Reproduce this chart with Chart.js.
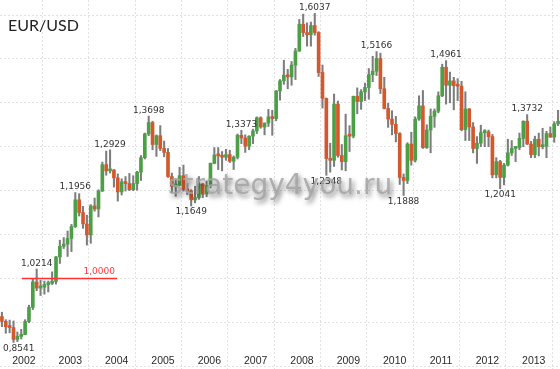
<!DOCTYPE html>
<html>
<head>
<meta charset="utf-8">
<script src="https://cdn.jsdelivr.net/npm/chart.js@4.4.1/dist/chart.umd.min.js"></script>
<style>
  html, body { margin: 0; padding: 0; background: #fff; }
  #wrap { width: 560px; height: 369px; }
</style>
</head>
<body>
<div id="wrap"><canvas id="eurusd" width="560" height="369"></canvas></div>
<script>
// monthly EUR/USD candles, Oct 2001 .. Oct 2013
const monthNames = ['Jan','Feb','Mar','Apr','May','Jun','Jul','Aug','Sep','Oct','Nov','Dec'];
const years = ['2002','2003','2004','2005','2006','2007','2008','2009','2010','2011','2012','2013'];

const opens = [
  0.9130, 0.9020, 0.8900,
  0.8880, 0.8610, 0.8680, 0.8720, 0.9020, 0.9340, 0.9920, 0.9780, 0.9800, 0.9860, 0.9890, 0.9930,
  1.0490, 1.0730, 1.0780, 1.0910, 1.1180, 1.1790, 1.1500, 1.1240, 1.0990, 1.1650, 1.1580, 1.1990,
  1.2590, 1.2450, 1.2470, 1.2290, 1.1970, 1.2200, 1.2160, 1.2020, 1.2160, 1.2420, 1.2750, 1.3290,
  1.3550, 1.3050, 1.3250, 1.2960, 1.2870, 1.2320, 1.2100, 1.2120, 1.2340, 1.2030, 1.1990, 1.1790,
  1.1840, 1.2150, 1.1920, 1.2120, 1.2620, 1.2810, 1.2790, 1.2760, 1.2820, 1.2670, 1.2760, 1.3260,
  1.3200, 1.3010, 1.3240, 1.3360, 1.3660, 1.3450, 1.3540, 1.3680, 1.3640, 1.4270, 1.4500, 1.4630,
  1.4590, 1.4860, 1.5180, 1.5790, 1.5600, 1.5550, 1.5760, 1.5600, 1.4690, 1.4100, 1.2730, 1.2690,
  1.3970, 1.2800, 1.2660, 1.3250, 1.3240, 1.4150, 1.4030, 1.4250, 1.4350, 1.4640, 1.4720, 1.5010,
  1.4320, 1.3870, 1.3630, 1.3510, 1.3300, 1.2300, 1.2230, 1.3060, 1.2690, 1.3630, 1.3930, 1.2980,
  1.3380, 1.3690, 1.3810, 1.4160, 1.4810, 1.4400, 1.4500, 1.4390, 1.4380, 1.3390, 1.3860, 1.3450,
  1.2960, 1.3080, 1.3320, 1.3340, 1.3230, 1.2360, 1.2660, 1.2300, 1.2580, 1.2860, 1.2960, 1.2980,
  1.3190, 1.3580, 1.3060, 1.2820, 1.3170, 1.3000, 1.3010, 1.3300, 1.3220, 1.3520
];
const highs = [
  0.9230, 0.9060, 0.9050,
  0.9030, 0.8780, 0.8840, 0.9060, 0.9390, 0.9990, 1.0214, 0.9960, 0.9940, 0.9940, 1.0150, 1.0500,
  1.0870, 1.0930, 1.1080, 1.1230, 1.1956, 1.1930, 1.1640, 1.1440, 1.1680, 1.1830, 1.2020, 1.2650,
  1.2900, 1.2929, 1.2480, 1.2380, 1.2270, 1.2320, 1.2390, 1.2340, 1.2440, 1.2800, 1.3310, 1.3698,
  1.3580, 1.3270, 1.3480, 1.3130, 1.2960, 1.2400, 1.2240, 1.2530, 1.2580, 1.2160, 1.2020, 1.2100,
  1.2320, 1.2160, 1.2220, 1.2630, 1.2980, 1.2980, 1.2890, 1.2940, 1.2920, 1.2790, 1.3290, 1.3373,
  1.3270, 1.3250, 1.3400, 1.3680, 1.3680, 1.3540, 1.3850, 1.3830, 1.4280, 1.4530, 1.4970, 1.4760,
  1.4940, 1.5240, 1.5900, 1.6020, 1.5820, 1.5840, 1.6037, 1.5620, 1.4860, 1.4110, 1.3080, 1.4200,
  1.4040, 1.3050, 1.3740, 1.3480, 1.4150, 1.4340, 1.4300, 1.4450, 1.4780, 1.5060, 1.5166, 1.5130,
  1.4580, 1.3990, 1.3820, 1.3690, 1.3320, 1.2380, 1.3090, 1.3330, 1.3680, 1.4160, 1.4280, 1.3500,
  1.3860, 1.3860, 1.4250, 1.4880, 1.4961, 1.4700, 1.4580, 1.4550, 1.4490, 1.4250, 1.3870, 1.3550,
  1.3230, 1.3490, 1.3390, 1.3380, 1.3280, 1.2750, 1.2690, 1.2620, 1.3170, 1.3140, 1.3010, 1.3310,
  1.3590, 1.3732, 1.3120, 1.3240, 1.3310, 1.3420, 1.3350, 1.3450, 1.3570, 1.3830
];
const lows = [
  0.8900, 0.8750, 0.8760,
  0.8541, 0.8560, 0.8620, 0.8720, 0.8990, 0.9290, 0.9720, 0.9610, 0.9640, 0.9690, 0.9860, 0.9870,
  1.0340, 1.0680, 1.0500, 1.0610, 1.1160, 1.1420, 1.1140, 1.0760, 1.0800, 1.1530, 1.1400, 1.1980,
  1.2350, 1.2400, 1.2080, 1.1760, 1.1900, 1.1990, 1.2000, 1.2000, 1.2010, 1.2230, 1.2720, 1.3250,
  1.2930, 1.2780, 1.2910, 1.2770, 1.2300, 1.1950, 1.1870, 1.2110, 1.1990, 1.1910, 1.1649, 1.1720,
  1.1800, 1.1840, 1.1860, 1.2060, 1.2610, 1.2480, 1.2450, 1.2690, 1.2640, 1.2480, 1.2720, 1.3070,
  1.2870, 1.2930, 1.3070, 1.3300, 1.3420, 1.3270, 1.3460, 1.3260, 1.3590, 1.4060, 1.4420, 1.4320,
  1.4400, 1.4530, 1.5170, 1.5510, 1.5290, 1.5290, 1.5540, 1.4600, 1.3880, 1.2348, 1.2420, 1.2550,
  1.2760, 1.2470, 1.2450, 1.2890, 1.3200, 1.3750, 1.3850, 1.4050, 1.4080, 1.4480, 1.4620, 1.4210,
  1.3860, 1.3440, 1.3270, 1.3110, 1.2140, 1.1888, 1.2160, 1.2580, 1.2650, 1.3600, 1.2960, 1.2960,
  1.2860, 1.3440, 1.3770, 1.4140, 1.3970, 1.4000, 1.3840, 1.4050, 1.3360, 1.3140, 1.3140, 1.2860,
  1.2620, 1.3000, 1.3000, 1.3000, 1.2290, 1.2290, 1.2041, 1.2130, 1.2560, 1.2800, 1.2660, 1.2930,
  1.3000, 1.3050, 1.2750, 1.2750, 1.2790, 1.2950, 1.2750, 1.3210, 1.3100, 1.3480
];
const closes = [
  0.9020, 0.8900, 0.8880,
  0.8610, 0.8680, 0.8720, 0.9020, 0.9340, 0.9920, 0.9780, 0.9800, 0.9860, 0.9890, 0.9930, 1.0490,
  1.0730, 1.0780, 1.0910, 1.1180, 1.1790, 1.1500, 1.1240, 1.0990, 1.1650, 1.1580, 1.1990, 1.2590,
  1.2450, 1.2470, 1.2290, 1.1970, 1.2200, 1.2160, 1.2020, 1.2160, 1.2420, 1.2750, 1.3290, 1.3550,
  1.3050, 1.3250, 1.2960, 1.2870, 1.2320, 1.2100, 1.2120, 1.2340, 1.2030, 1.1990, 1.1790, 1.1840,
  1.2150, 1.1920, 1.2120, 1.2620, 1.2810, 1.2790, 1.2760, 1.2820, 1.2670, 1.2760, 1.3260, 1.3200,
  1.3010, 1.3240, 1.3360, 1.3660, 1.3450, 1.3540, 1.3680, 1.3640, 1.4270, 1.4500, 1.4630, 1.4590,
  1.4860, 1.5180, 1.5790, 1.5600, 1.5550, 1.5760, 1.5600, 1.4690, 1.4100, 1.2730, 1.2690, 1.3970,
  1.2800, 1.2660, 1.3250, 1.3240, 1.4150, 1.4030, 1.4250, 1.4350, 1.4640, 1.4720, 1.5010, 1.4320,
  1.3870, 1.3630, 1.3510, 1.3300, 1.2300, 1.2230, 1.3060, 1.2690, 1.3630, 1.3930, 1.2980, 1.3380,
  1.3690, 1.3810, 1.4160, 1.4810, 1.4400, 1.4500, 1.4390, 1.4380, 1.3390, 1.3860, 1.3450, 1.2960,
  1.3080, 1.3320, 1.3340, 1.3230, 1.2360, 1.2660, 1.2300, 1.2580, 1.2860, 1.2960, 1.2980, 1.3190,
  1.3580, 1.3060, 1.2820, 1.3170, 1.3000, 1.3010, 1.3300, 1.3220, 1.3520, 1.3580
];

// marked extremes (index into the arrays above)
const extremes = [
  { i: 3,   price: 0.8541, text: '0,8541', side: 'below' },
  { i: 9,   price: 1.0214, text: '1,0214', side: 'above' },
  { i: 19,  price: 1.1956, text: '1,1956', side: 'above' },
  { i: 28,  price: 1.2929, text: '1,2929', side: 'above' },
  { i: 38,  price: 1.3698, text: '1,3698', side: 'above' },
  { i: 49,  price: 1.1649, text: '1,1649', side: 'below' },
  { i: 62,  price: 1.3373, text: '1,3373', side: 'above' },
  { i: 81,  price: 1.6037, text: '1,6037', side: 'above' },
  { i: 84,  price: 1.2348, text: '1,2348', side: 'below' },
  { i: 97,  price: 1.5166, text: '1,5166', side: 'above' },
  { i: 104, price: 1.1888, text: '1,1888', side: 'below' },
  { i: 115, price: 1.4961, text: '1,4961', side: 'above' },
  { i: 129, price: 1.2041, text: '1,2041', side: 'below' },
  { i: 136, price: 1.3732, text: '1,3732', side: 'above' }
];

// parity line
const levelValue = 1.0;
const levelText = '1,0000';
const levelSpan = [5.2, 29.8];

const gridLevels = [0.8, 0.9, 1.0, 1.1, 1.2, 1.3, 1.4, 1.5, 1.6];
const yearSplits = [10.5, 22.5, 34.5, 46.5, 58.5, 70.5, 82.5, 94.5, 106.5, 118.5, 130.5, 142.5];

const UP = '#4c9f46', DOWN = '#d4582c', WICK = '#7d7d7d';

const labels = opens.map((_, i) => {
  const m = (9 + i) % 12, y = 2001 + Math.floor((9 + i) / 12);
  return monthNames[m] + ' ' + y;
});
const bodies = opens.map((o, i) => ({ x: i, y: [Math.min(o, closes[i]), Math.max(o, closes[i])] }));
const wicks = opens.map((o, i) => ({ x: i, y: [lows[i], highs[i]] }));
const bodyColors = opens.map((o, i) => closes[i] >= o ? UP : DOWN);

const overlay = {
  id: 'overlay',
  afterDraw(chart) {
    const { ctx, scales: { x, y } } = chart;
    ctx.save();

    // year labels
    ctx.font = '10.5px "Liberation Sans"';
    ctx.fillStyle = '#2a2a2a';
    ctx.textAlign = 'center';
    ctx.textBaseline = 'middle';
    years.forEach((yr, k) => ctx.fillText(yr, x.getPixelForValue(5.7 + 12 * k), 361));

    // extreme values, kept inside the canvas
    ctx.font = '9px "DejaVu Sans"';
    ctx.fillStyle = '#333';
    extremes.forEach(e => {
      const py = y.getPixelForValue(e.price);
      const half = ctx.measureText(e.text).width / 2;
      const px = Math.max(x.getPixelForValue(e.i), half + 3);
      ctx.fillText(e.text, px, e.side === 'above' ? py - 5.5 : py + 6);
    });

    // parity label
    ctx.fillStyle = '#ff3b3b';
    ctx.textAlign = 'right';
    ctx.fillText(levelText, x.getPixelForValue(levelSpan[1]) - 2, y.getPixelForValue(levelValue) - 7);

    // title
    ctx.font = '16px Lato';
    ctx.fillStyle = '#222';
    ctx.textAlign = 'left';
    ctx.textBaseline = 'alphabetic';
    ctx.fillText('EUR/USD', 8, 31);

    // watermark
    ctx.font = '28px "DejaVu Sans"';
    ctx.fillStyle = 'rgba(165,165,165,0.85)';
    ctx.shadowColor = 'rgba(0,0,0,0.6)';
    ctx.shadowBlur = 5;
    ctx.shadowOffsetX = 2;
    ctx.shadowOffsetY = 3;
    ctx.fillText('strategy4you.ru', 168, 194);

    ctx.restore();
  }
};

new Chart(document.getElementById('eurusd'), {
  type: 'bar',
  data: {
    labels,
    datasets: [
      { label: 'body', data: bodies, backgroundColor: bodyColors, barThickness: 3, grouped: false, minBarLength: 2, order: 1 },
      { label: 'range', data: wicks, backgroundColor: WICK, barThickness: 1.4, grouped: false, order: 2 },
      { type: 'line', label: 'parity', data: levelSpan.map(v => ({ x: v, y: levelValue })),
        borderColor: '#ff3030', borderWidth: 1.5, pointRadius: 0, order: 0 }
    ]
  },
  options: {
    responsive: false,
    animation: false,
    devicePixelRatio: 1,
    layout: { padding: 0 },
    plugins: { legend: { display: false }, tooltip: { enabled: false } },
    scales: {
      x: {
        type: 'linear', min: -0.5, max: 144.5, offset: false,
        afterBuildTicks: s => { s.ticks = yearSplits.map(v => ({ value: v })); },
        ticks: { display: false },
        grid: { color: '#e2e2e2', drawTicks: false, offset: false },
        border: { display: false, dash: [2, 2] }
      },
      y: {
        min: 0.79362, max: 1.63417,
        afterBuildTicks: s => { s.ticks = gridLevels.map(v => ({ value: v })); },
        ticks: { display: false },
        grid: { color: '#e2e2e2', drawTicks: false },
        border: { display: false, dash: [2, 2] }
      }
    }
  },
  plugins: [overlay]
});
</script>
</body>
</html>
